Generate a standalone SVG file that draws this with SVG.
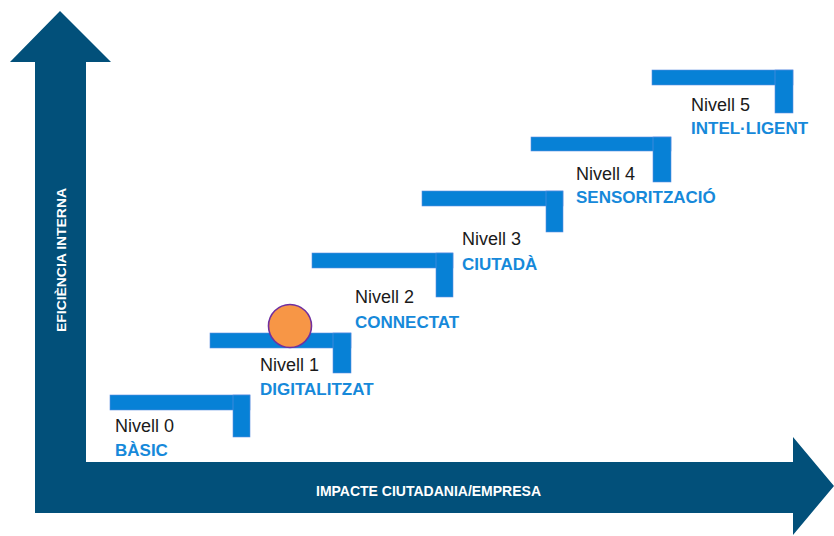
<svg xmlns="http://www.w3.org/2000/svg" width="834" height="536" viewBox="0 0 834 536">
<style>
.bar{fill:#0781D6;stroke:#5E8FE0;stroke-width:0.6}
.lvl{font-family:"Liberation Sans",Arial,sans-serif;font-size:18px;fill:#1a1a1a}
.name{font-family:"Liberation Sans",Arial,sans-serif;font-size:17px;font-weight:bold;fill:#1689DA}
.ax{font-family:"Liberation Sans",Arial,sans-serif;font-weight:bold;fill:#ffffff}
</style>
<rect width="834" height="536" fill="#ffffff"/>
<g id="axes">
<polygon points="60,11 111,62 86,62 86,462 793,462 793,437 834,486 793,535 793,513 35,513 35,62 10,62" fill="#02507A"/>
<text class="ax" font-size="13" transform="translate(66,260) rotate(-90)" text-anchor="middle" textLength="144" lengthAdjust="spacingAndGlyphs">EFICIÈNCIA INTERNA</text>
<text class="ax" font-size="14" x="428.5" y="496" text-anchor="middle" textLength="225" lengthAdjust="spacingAndGlyphs">IMPACTE CIUTADANIA/EMPRESA</text>
</g>
<g id="level0">
<rect class="bar" x="110" y="395" width="140" height="15"/>
<rect class="bar" x="233" y="395" width="17" height="42"/>
<text class="lvl" x="115" y="432">Nivell 0</text>
<text class="name" x="115" y="456">BÀSIC</text>
</g>
<g id="level1">
<rect class="bar" x="210" y="333" width="141" height="15"/>
<rect class="bar" x="333" y="333" width="18" height="40"/>
<circle cx="290" cy="326" r="21.5" fill="#F79646" stroke="#7030A0" stroke-width="1.6"/>
<text class="lvl" x="260" y="371">Nivell 1</text>
<text class="name" x="260" y="395">DIGITALITZAT</text>
</g>
<g id="level2">
<rect class="bar" x="312" y="253" width="141" height="15"/>
<rect class="bar" x="436" y="253" width="17" height="44"/>
<text class="lvl" x="355" y="303">Nivell 2</text>
<text class="name" x="355" y="328">CONNECTAT</text>
</g>
<g id="level3">
<rect class="bar" x="422" y="191" width="141" height="15"/>
<rect class="bar" x="546" y="191" width="17" height="41"/>
<text class="lvl" x="462" y="245">Nivell 3</text>
<text class="name" x="462" y="270">CIUTADÀ</text>
</g>
<g id="level4">
<rect class="bar" x="531" y="137" width="140" height="14"/>
<rect class="bar" x="653" y="137" width="18" height="45"/>
<text class="lvl" x="576" y="180">Nivell 4</text>
<text class="name" x="576" y="203">SENSORITZACIÓ</text>
</g>
<g id="level5">
<rect class="bar" x="652" y="70" width="141" height="15"/>
<rect class="bar" x="775" y="70" width="18" height="43"/>
<text class="lvl" x="691" y="111">Nivell 5</text>
<text class="name" x="691" y="134">INTEL·LIGENT</text>
</g>
<g id="connectors"></g>
</svg>
